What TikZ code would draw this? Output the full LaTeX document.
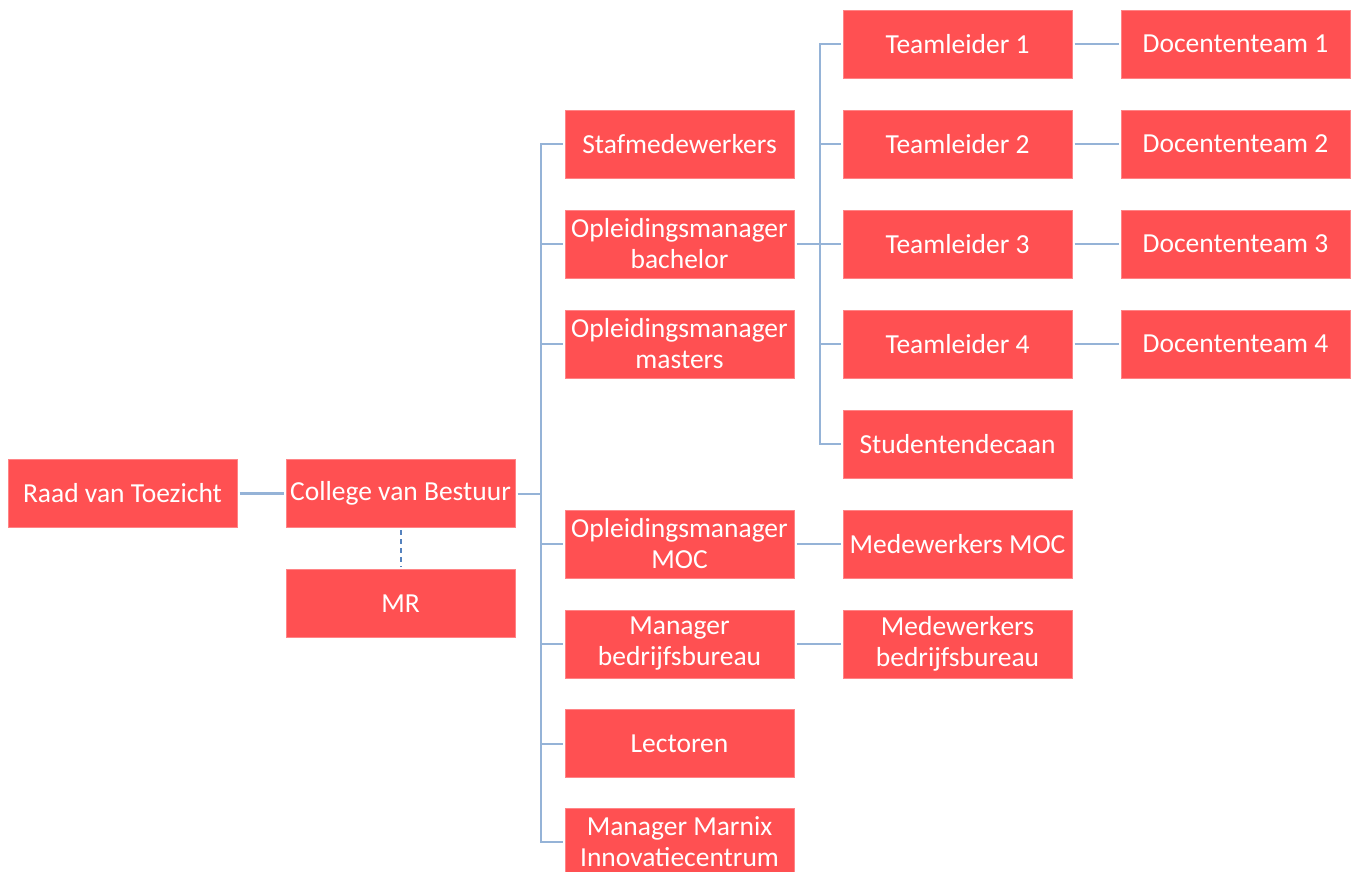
\documentclass[tikz,border=0pt]{standalone}
\usepackage{fontspec}
\setmainfont{Carlito}
\definecolor{boxred}{RGB}{255,80,82}
\definecolor{linkblue}{RGB}{149,179,215}
\definecolor{dashblue}{RGB}{84,130,190}
\begin{document}
\begin{tikzpicture}[x=1pt,y=-1pt,
  box/.style={rectangle,fill=boxred,draw=boxred!70!white,line width=0.8pt,
    minimum width=229pt,minimum height=68pt,inner sep=0pt,outer sep=2.5pt,
    text=white,align=center,font=\fontsize{27.5}{31}\selectfont},
  conn/.style={draw=linkblue,line width=2pt},
  dconn/.style={draw=dashblue,line width=2pt,dash pattern=on 5pt off 4pt}]
\useasboundingbox (0,0) rectangle (1353,872);
% column 0/1
\node[box] (raad) at (122.5,493.5) {Raad van Toezicht};
\node[box] (cvb) at (400.5,493.5) {College van Bestuur};
\node[box] (mr) at (400.5,603.5) {MR};
% column 2
\node[box] (staf) at (679.5,144) {Stafmedewerkers};
\node[box] (bach) at (679.5,244) {Opleidingsmanager\\bachelor};
\node[box] (mast) at (679.5,344) {Opleidingsmanager\\masters};
\node[box] (moc) at (679.5,544) {Opleidingsmanager\\MOC};
\node[box] (bedr) at (679.5,644) {Manager\\bedrijfsbureau};
\node[box] (lect) at (679.5,743.5) {Lectoren};
\node[box] (marn) at (679.5,842) {Manager Marnix\\Innovatiecentrum};
% column 3
\node[box] (tl1) at (957.5,44) {Teamleider 1};
\node[box] (tl2) at (957.5,144) {Teamleider 2};
\node[box] (tl3) at (957.5,244) {Teamleider 3};
\node[box] (tl4) at (957.5,344) {Teamleider 4};
\node[box] (sdec) at (957.5,444) {Studentendecaan};
\node[box] (mmoc) at (957.5,544) {Medewerkers MOC};
\node[box] (mbedr) at (957.5,644) {Medewerkers\\bedrijfsbureau};
% column 4
\node[box] (dt1) at (1235.5,44) {Docententeam 1};
\node[box] (dt2) at (1235.5,144) {Docententeam 2};
\node[box] (dt3) at (1235.5,244) {Docententeam 3};
\node[box] (dt4) at (1235.5,344) {Docententeam 4};
% buses
\coordinate (busA) at (540.5,493.5);
\coordinate (busB) at (819.5,244);
% connectors
\draw[conn,line width=2.8pt] (raad) -- (cvb);
\draw[dconn] (cvb) -- (mr);
\draw[conn] (cvb.east) -- (busA);
\foreach \n in {staf,bach,mast,moc,bedr,lect,marn}
  \draw[conn] (busA) |- (\n.west);
\draw[conn] (bach.east) -- (busB);
\foreach \n in {tl1,tl2,tl3,tl4,sdec}
  \draw[conn] (busB) |- (\n.west);
\draw[conn] (moc) -- (mmoc);
\draw[conn] (bedr) -- (mbedr);
\draw[conn] (tl1) -- (dt1);
\draw[conn] (tl2) -- (dt2);
\draw[conn] (tl3) -- (dt3);
\draw[conn] (tl4) -- (dt4);
\end{tikzpicture}
\end{document}
